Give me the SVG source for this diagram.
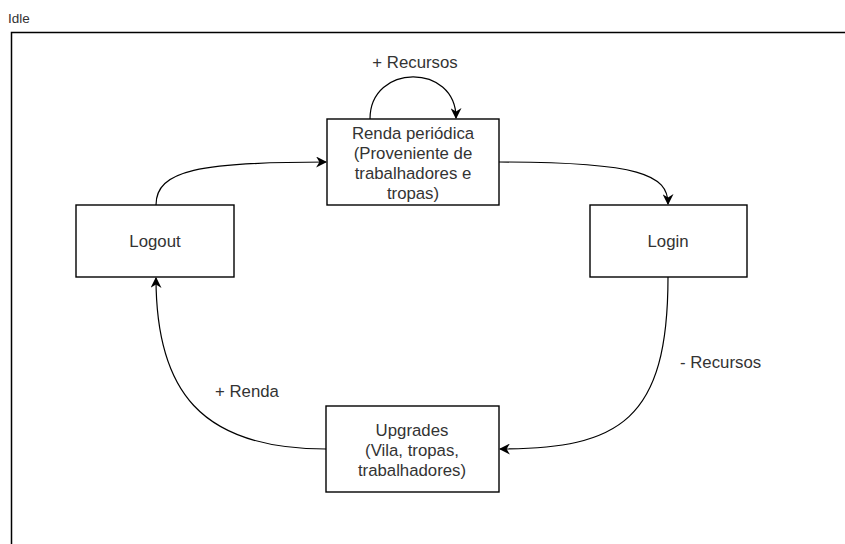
<svg xmlns="http://www.w3.org/2000/svg" width="845" height="544" viewBox="0 0 845 544">
<defs>
<marker id="arr" viewBox="0 0 10 10" refX="9" refY="5" markerWidth="11" markerHeight="11" markerUnits="userSpaceOnUse" orient="auto">
<path d="M0,0 L10,5 L0,10 L3,5 Z" fill="#000"/>
</marker>
</defs>
<style>
text{font-family:"Liberation Sans",Arial,sans-serif;font-size:16.8px;fill:#333;}
.node rect{fill:#fff;stroke:#000;stroke-width:1.4;}
.edge{fill:none;stroke:#000;stroke-width:1.2;marker-end:url(#arr);}
.c{text-anchor:middle;}
</style>
<rect x="0" y="0" width="845" height="544" fill="#fff"/>
<text x="8" y="23" style="font-size:13.5px">Idle</text>
<rect x="11.5" y="32.5" width="900" height="600" fill="none" stroke="#000" stroke-width="1.5"/>
<g id="connectors">
<path class="edge" d="M370,119 C370,63 456,63 456,118"/>
<path class="edge" d="M156,205 C156,170 200,162 326,162"/>
<path class="edge" d="M499,162 C640,162 668,175 668,204"/>
<path class="edge" d="M668,277 C668,420 620,449 500,449"/>
<path class="edge" d="M326,449 C200,449 156,390 156,278"/>
<text class="c" x="415" y="68">+ Recursos</text>
<text x="680" y="368">- Recursos</text>
<text x="215" y="397">+ Renda</text>
</g>
<g id="renda" class="node">
<rect x="327" y="119" width="172" height="86"/>
<text class="c" x="413" y="139">Renda periódica</text>
<text class="c" x="413" y="159">(Proveniente de</text>
<text class="c" x="413" y="179">trabalhadores e</text>
<text class="c" x="413" y="199">tropas)</text>
</g>
<g id="logout" class="node">
<rect x="76" y="205" width="158" height="72"/>
<text class="c" x="155" y="247">Logout</text>
</g>
<g id="login" class="node">
<rect x="590" y="205" width="157" height="72"/>
<text class="c" x="668" y="247">Login</text>
</g>
<g id="upgrades" class="node">
<rect x="326" y="406" width="173" height="86"/>
<text class="c" x="412" y="436">Upgrades</text>
<text class="c" x="412" y="456">(Vila, tropas,</text>
<text class="c" x="412" y="476">trabalhadores)</text>
</g>
</svg>
